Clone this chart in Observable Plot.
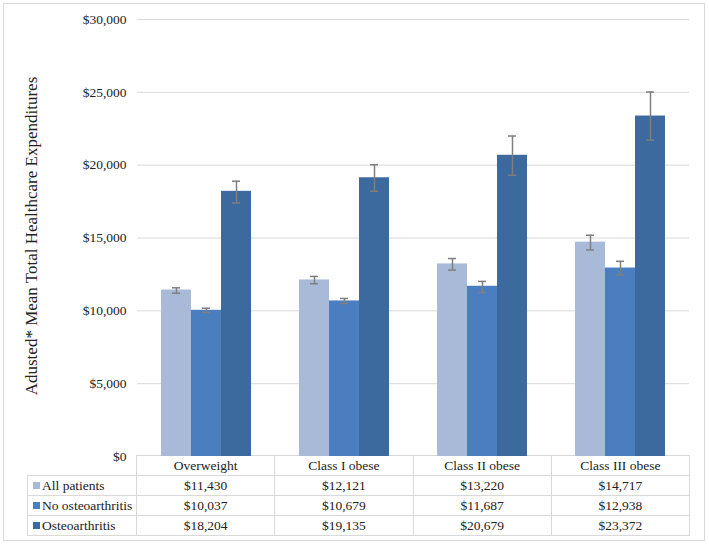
<!DOCTYPE html>
<html>
<head>
<meta charset="utf-8">
<script src="https://cdn.jsdelivr.net/npm/d3@7"></script>
<script src="https://cdn.jsdelivr.net/npm/@observablehq/plot@0.6"></script>
<style>
  html, body { margin: 0; padding: 0; background: #fff; }
  body { width: 709px; height: 546px; position: relative; overflow: hidden; font-family: "Liberation Serif", "Times New Roman", serif; color: #222; }
  #frame { position: absolute; left: 3px; top: 3px; width: 702px; height: 538px; border: 1px solid #d9d9d9; box-sizing: border-box; }
  #chart { position: absolute; left: 0; top: 0; z-index: 2; }
  #ylabel { position: absolute; left: 31px; top: 236px; transform: translate(-50%, -50%) rotate(-90deg); white-space: nowrap; font-size: 17px; line-height: 1; z-index: 3; }
  #table { position: absolute; left: 27px; top: 455px; border-collapse: collapse; table-layout: fixed; font-size: 13.5px; z-index: 1; }
  #table td { border: 1px solid #d9d9d9; padding: 0; height: 19px; line-height: 18px; text-align: center; white-space: nowrap; }
  #table td.rowhead { text-align: left; padding-left: 5px; }
  #table td.corner { border-top: none; border-left: none; }
  .key { display: inline-block; width: 7px; height: 7px; margin-right: 2px; vertical-align: 1px; }
</style>
</head>
<body>
<div id="frame"></div>
<div id="chart"></div>
<div id="ylabel"></div>
<table id="table"></table>
<script>
const categories = ["Overweight", "Class I obese", "Class II obese", "Class III obese"];
const series = ["All patients", "No osteoarthritis", "Osteoarthritis"];
const colors = ["#A9BAD9", "#4A7EBF", "#3C6A9E"];

const allPatients = [11430, 12121, 13220, 14717];
const noOsteoarthritis = [10037, 10679, 11687, 12938];
const osteoarthritis = [18204, 19135, 20679, 23372];

// error bar ends
const allLow = [11210, 11860, 12800, 14180];
const allHigh = [11580, 12360, 13590, 15190];
const noOALow = [9890, 10510, 11260, 12470];
const noOAHigh = [10180, 10850, 12020, 13400];
const oaLow = [17400, 18210, 19310, 21720];
const oaHigh = [18900, 20030, 22000, 25020];

const yTicks = [0, 5000, 10000, 15000, 20000, 25000, 30000];
const yLabel = "Adusted* Mean Total Healthcare Expenditures";

const valueSets = [allPatients, noOsteoarthritis, osteoarthritis];
const lowSets = [allLow, noOALow, oaLow];
const highSets = [allHigh, noOAHigh, oaHigh];

const data = [];
categories.forEach((c, i) => {
  series.forEach((s, j) => {
    data.push({cat: c, series: s, value: valueSets[j][i], lo: lowSets[j][i], hi: highSets[j][i]});
  });
});

const fmt = d3.format("$,");

const chart = Plot.plot({
  width: 709,
  height: 460,
  marginLeft: 136,
  marginRight: 20,
  marginTop: 19,
  marginBottom: 4,
  style: {fontFamily: "'Liberation Serif', 'Times New Roman', serif", fontSize: "13.5px", color: "#222", overflow: "visible", background: "transparent"},
  fx: {domain: categories, padding: 0, axis: null, label: null},
  x: {domain: series, axis: null, paddingInner: 0, paddingOuter: 0.77},
  y: {domain: [0, 30000], ticks: yTicks, tickFormat: fmt, tickSize: 0, tickPadding: 11, label: null},
  color: {domain: series, range: colors},
  marks: [
    Plot.gridY(yTicks.filter(d => d > 0), {stroke: "#d9d9d9", strokeOpacity: 1, strokeWidth: 1}),
    Plot.barY(data, {fx: "cat", x: "series", y: "value", fill: "series"}),
    Plot.ruleX(data, {fx: "cat", x: "series", y1: "lo", y2: "hi", stroke: "#7f7f7f", strokeWidth: 1.5}),
    Plot.tickY(data, {fx: "cat", x: "series", y: "hi", stroke: "#7f7f7f", strokeWidth: 1.5, inset: 11}),
    Plot.tickY(data, {fx: "cat", x: "series", y: "lo", stroke: "#7f7f7f", strokeWidth: 1.5, inset: 11})
  ]
});
document.getElementById("chart").appendChild(chart);
document.getElementById("ylabel").textContent = yLabel;

// data table under the chart
const table = document.getElementById("table");
const colgroup = document.createElement("colgroup");
[109, 138.25, 138.25, 138.25, 138.25].forEach(w => {
  const col = document.createElement("col");
  col.style.width = w + "px";
  colgroup.appendChild(col);
});
table.appendChild(colgroup);
const head = document.createElement("tr");
const corner = document.createElement("td");
corner.className = "corner";
head.appendChild(corner);
categories.forEach(c => {
  const td = document.createElement("td");
  td.textContent = c;
  head.appendChild(td);
});
table.appendChild(head);
series.forEach((s, j) => {
  const tr = document.createElement("tr");
  const th = document.createElement("td");
  th.className = "rowhead";
  const key = document.createElement("span");
  key.className = "key";
  key.style.background = colors[j];
  th.appendChild(key);
  th.appendChild(document.createTextNode(s));
  tr.appendChild(th);
  valueSets[j].forEach(v => {
    const td = document.createElement("td");
    td.textContent = fmt(v);
    tr.appendChild(td);
  });
  table.appendChild(tr);
});
</script>
</body>
</html>
